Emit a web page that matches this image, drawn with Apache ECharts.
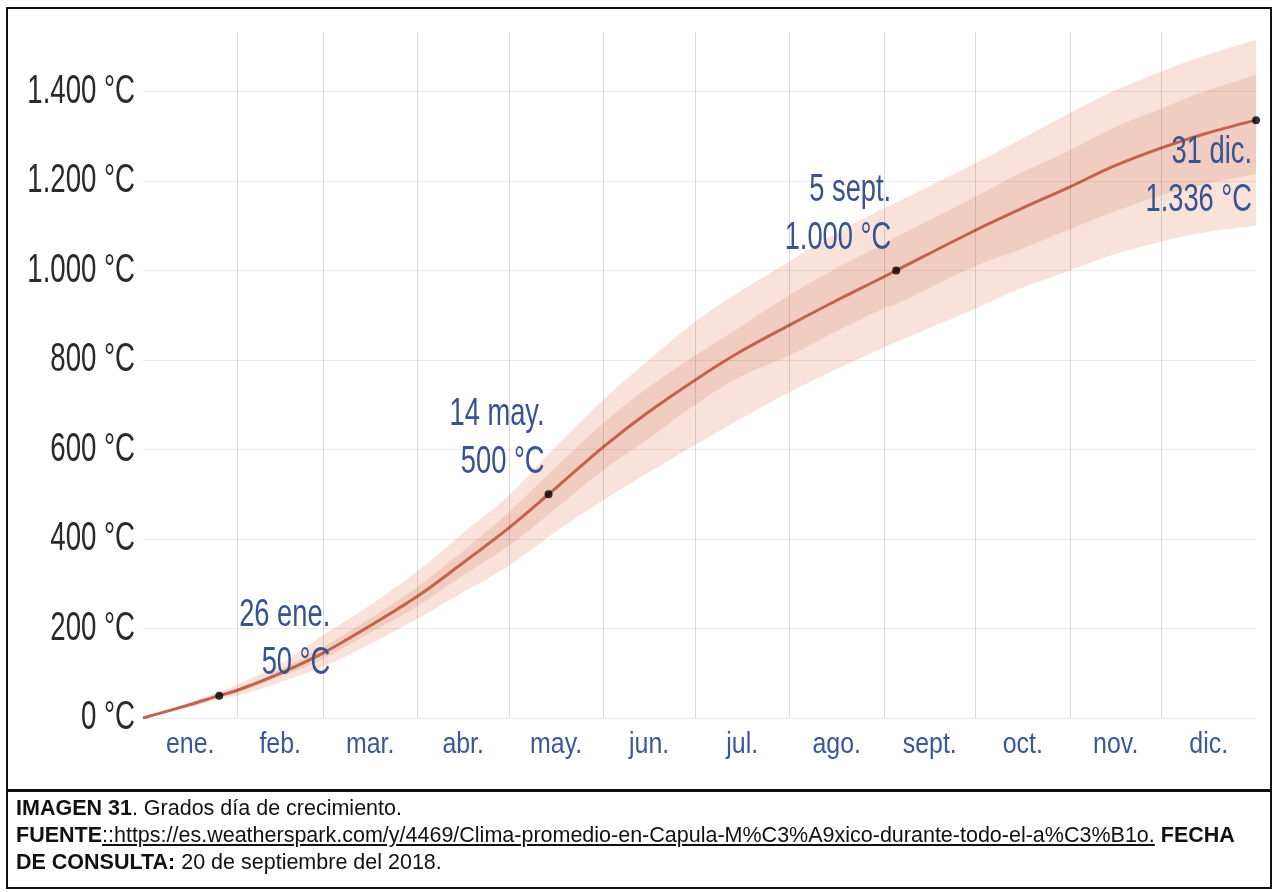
<!DOCTYPE html>
<html>
<head>
<meta charset="utf-8">
<script src="https://cdn.jsdelivr.net/npm/echarts@6/dist/echarts.min.js"></script>
<style>
  html, body { margin: 0; padding: 0; background: #fff; }
  #page { position: relative; width: 1275px; height: 892px; overflow: hidden; background: #fff; }
  #chart { position: absolute; left: 0; top: 0; width: 1275px; height: 790px; }
  #frame { position: absolute; left: 6px; top: 7px; width: 1262px; height: 781px; border: 2px solid #111; pointer-events: none; }
  #capbox { position: absolute; left: 6px; top: 789px; width: 1262px; height: 95px; border: 2px solid #111; border-top-width: 3px; }
  #cap { position: absolute; left: 8px; top: 3px; font-family: "Liberation Sans", Arial, sans-serif; font-size: 21.5px; line-height: 27px; color: #111; white-space: nowrap; }
  #cap u { text-decoration: underline; }
</style>
</head>
<body>
<div id="page">
  <div id="chart"></div>
  <div id="frame"></div>
  <div id="capbox"><div id="cap"><b>IMAGEN 31</b>. Grados día de crecimiento.<br><b>FUENTE</b><u>::https://es.weatherspark.com/y/4469/Clima-promedio-en-Capula-M%C3%A9xico-durante-todo-el-a%C3%B1o.</u> <b>FECHA</b><br><b>DE CONSULTA:</b> 20 de septiembre del 2018.</div></div>
</div>
<script>
// ---- data ----
const months = ['ene.', 'feb.', 'mar.', 'abr.', 'may.', 'jun.', 'jul.', 'ago.', 'sept.', 'oct.', 'nov.', 'dic.'];
const monthDays = [31, 28, 31, 30, 31, 30, 31, 31, 30, 31, 30, 31];
const yTicks = [0, 200, 400, 600, 800, 1000, 1200, 1400];
const yTickLabels = ['0 °C', '200 °C', '400 °C', '600 °C', '800 °C', '1.000 °C', '1.200 °C', '1.400 °C'];

// day of year (0 = 1 ene.)
const days      = [0, 14, 25, 31, 45, 59, 73, 90, 104, 120, 133, 151, 165, 181, 195, 212, 226, 243, 247, 273, 287, 304, 318, 334, 348, 365];
const gddMean   = [0, 27, 50, 62, 100, 145, 200, 272, 342, 425, 500, 606, 680, 755, 815, 878, 928, 986, 1000, 1090, 1135, 1187, 1232, 1274, 1305, 1336];
const gddP10    = [0, 22, 42, 50, 80, 115, 160, 222, 277, 340, 405, 487, 545, 610, 665, 728, 775, 828, 840, 915, 958, 1000, 1035, 1065, 1085, 1100];
const gddP25    = [0, 25, 47, 57, 92, 132, 185, 250, 314, 385, 455, 554, 620, 700, 760, 810, 860, 915, 925, 1010, 1045, 1092, 1130, 1168, 1193, 1215];
const gddP75    = [0, 29, 53, 67, 108, 158, 216, 293, 368, 460, 545, 659, 735, 810, 870, 945, 1000, 1060, 1075, 1165, 1215, 1269, 1318, 1362, 1400, 1437];
const gddP90    = [0, 32, 58, 75, 120, 185, 245, 328, 408, 497, 590, 711, 795, 885, 950, 1020, 1078, 1140, 1152, 1240, 1290, 1352, 1400, 1445, 1480, 1515];

const markDays  = [25, 133, 247, 365];
const markVals  = [50, 500, 1000, 1336];
const markDates = ['26 ene.', '14 may.', '5 sept.', '31 dic.'];
const markTemps = ['50 °C', '500 °C', '1.000 °C', '1.336 °C'];

// ---- derived helpers ----
const monthStarts = [];
const monthMids = [];
let acc = 0;
monthDays.forEach(function (d) { monthStarts.push(acc); monthMids.push(acc + d / 2); acc += d; });
const pairs = function (vals) { return days.map(function (d, i) { return [d, vals[i]]; }); };

const FONT = '"Liberation Sans", Arial, sans-serif';
const OUTER = '#f8e2da';
const INNER = '#f1cdc1';
const SM = 0.35;

const chart = echarts.init(document.getElementById('chart'), null, { renderer: 'canvas' });
const areaBase = { type: 'line', smooth: SM, symbol: 'none', silent: true, lineStyle: { width: 0, opacity: 0 }, z: 2 };

chart.setOption({
  animation: false,
  backgroundColor: '#fff',
  grid: { left: 143, top: 32, width: 1113, height: 686, containLabel: false, outerBoundsMode: 'none' },
  xAxis: {
    type: 'value', min: 0, max: 365,
    axisLine: { show: false }, axisTick: { show: false }, splitLine: { show: false }, axisLabel: { show: false }
  },
  yAxis: {
    type: 'value', min: 0, max: 1533,
    axisLine: { show: false }, axisTick: { show: false }, splitLine: { show: false }, axisLabel: { show: false }
  },
  series: [
    Object.assign({}, areaBase, { name: 'p90', data: pairs(gddP90), areaStyle: { color: OUTER, opacity: 1 } }),
    Object.assign({}, areaBase, { name: 'p75', data: pairs(gddP75), areaStyle: { color: INNER, opacity: 1 } }),
    Object.assign({}, areaBase, { name: 'p25', data: pairs(gddP25), areaStyle: { color: OUTER, opacity: 1 } }),
    Object.assign({}, areaBase, { name: 'p10', data: pairs(gddP10), areaStyle: { color: '#ffffff', opacity: 1 } }),
    {
      type: 'line', data: [], silent: true, z: 3,
      markLine: {
        silent: true, symbol: 'none', label: { show: false }, animation: false,
        data: monthStarts.slice(1).map(function (d) { return { xAxis: d, lineStyle: { color: 'rgba(0,0,0,0.14)', width: 1, type: 'solid' } }; })
          .concat(yTicks.map(function (v) { return { yAxis: v, lineStyle: { color: 'rgba(0,0,0,0.075)', width: 1, type: 'solid' } }; }))
      }
    },
    {
      type: 'line', name: 'media', data: pairs(gddMean), smooth: SM, symbol: 'none', silent: true, z: 4,
      lineStyle: { color: '#c2634c', width: 3 }
    },
    {
      type: 'scatter', name: 'hitos', z: 5, symbolSize: 8, itemStyle: { color: '#000' },
      data: markDays.map(function (d, i) { return [d, markVals[i]]; })
    }
  ]
});

// ---- texts placed through the chart's own scales ----
const px = function (x, y) { return chart.convertToPixel({ gridIndex: 0 }, [x, y]); };
const graphics = [];
yTicks.forEach(function (v, i) {
  const p = px(0, v);
  graphics.push({ type: 'text', x: p[0] - 8, y: p[1], scaleX: 0.69, silent: true,
    style: { text: yTickLabels[i], fontFamily: FONT, fontSize: 40, fill: '#2a2a2a', align: 'right', verticalAlign: 'middle' } });
});
monthMids.forEach(function (m, i) {
  const p = px(m, 0);
  graphics.push({ type: 'text', x: p[0], y: p[1] + 27, scaleX: 0.86, silent: true,
    style: { text: months[i], fontFamily: FONT, fontSize: 29, fill: '#3b5896', align: 'center', verticalAlign: 'middle' } });
});
const annOffsets = [[111, -56], [-4, -56], [-5, -56], [-4, 56]];
markDays.forEach(function (d, i) {
  const p = px(d, markVals[i]);
  graphics.push({ type: 'text', x: p[0] + annOffsets[i][0], y: p[1] + annOffsets[i][1], scaleX: 0.7, silent: true, z: 100,
    style: { text: markDates[i] + '\n' + markTemps[i], fontFamily: FONT, fontSize: 39, lineHeight: 48, fill: '#38548f', align: 'right', verticalAlign: 'middle' } });
});
chart.setOption({ graphic: { elements: graphics } });
</script>
</body>
</html>
